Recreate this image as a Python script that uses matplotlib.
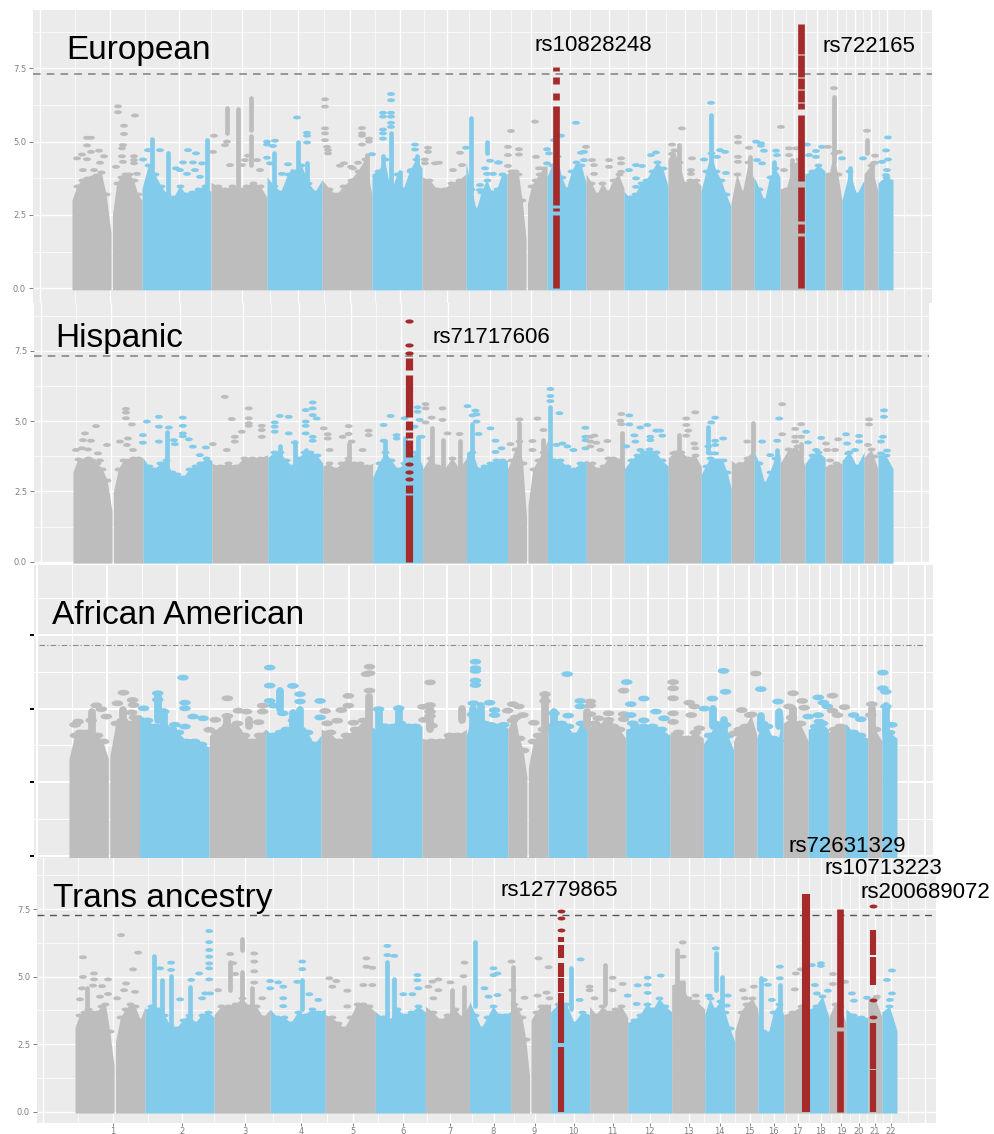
import numpy as np
import matplotlib
matplotlib.use('Agg')
import matplotlib.pyplot as plt
from matplotlib.path import Path

plt.rcParams['font.family'] = ['Liberation Sans', 'DejaVu Sans']

W, H = 994, 1134
GRAY = '#bdbdbd'
BLUE = '#83cbeb'
RED = '#a52a2a'
BG = '#ebebeb'

# genome position of each solid block (chr1 and chr9 have a gap at the centromere)
seg_start = [0, 40.5, 70, 139, 195, 250, 300, 350, 394, 435, 455.5, 475, 514, 552, 596, 629, 659, 682, 708, 733, 753, 770, 792, 806]
seg_end = [39, 70, 139, 195, 250, 300, 350, 394, 435, 454, 475, 514, 552, 596, 629, 659, 682, 708, 733, 753, 770, 792, 806, 821]
seg_chrom = [1, 1, 2, 3, 4, 5, 6, 7, 8, 9, 9, 10, 11, 12, 13, 14, 15, 16, 17, 18, 19, 20, 21, 22]
chrom_start = [0, 70, 139, 195, 250, 300, 350, 394, 435, 475, 514, 552, 596, 629, 659, 682, 708, 733, 753, 770, 792, 806]

tick_pos = [38, 107, 170, 226, 278, 328, 375, 418, 459, 498, 537, 574, 613, 644, 674, 698, 722, 745, 765, 783, 799, 815]
tick_lab = [str(i) for i in range(1, 23)]
grid_major = [-32] + tick_pos + [849]
y_breaks = [0, 2.5, 5, 7.5]
y_minor = [1.25, 3.75, 6.25, 8.75]

# ---------- European ----------
eur_ridge = [
    [3.0, 3.5, 3.7, 3.75, 3.8, 3.85, 3.95, 3.2, 1.9], [2.5, 3.6, 3.8, 3.9, 3.9, 3.7, 3.2, 3.0],
    [3.4, 4.2, 3.9, 3.5, 3.2, 3.1, 3.5, 3.2, 3.3, 3.4, 3.5, 3.3], [3.6, 3.5, 3.4, 3.5, 3.4, 3.5, 3.6, 3.5, 3.1],
    [3.8, 3.5, 3.3, 3.9, 4.0, 4.2, 3.6, 3.3, 3.7], [3.7, 3.4, 3.2, 3.5, 3.7, 4.0, 4.4, 3.2], [3.9, 4.0, 4.4, 3.3, 3.9, 3.4, 4.0, 4.4, 4.1],
    [3.8, 3.7, 3.4, 3.4, 3.6, 3.7, 3.9], [4.3, 3.4, 2.7, 3.3, 3.7, 3.3, 3.4, 3.9, 3.9], [3.9, 4.0, 4.0, 3.9, 3.0, 1.7], [2.9, 3.5, 3.7, 3.9, 4.1, 4.2],
    [3.8, 4.2, 4.5, 3.8, 3.4, 4.0, 4.3, 4.2, 3.6], [3.9, 3.6, 3.2, 3.6, 3.3, 3.7, 3.9, 3.4], [3.3, 3.1, 3.2, 3.6, 3.7, 4.0, 4.3, 4.1, 3.5],
    [4.4, 4.7, 4.3, 3.6, 3.7, 3.7, 3.5], [3.3, 4.0, 4.6, 4.0, 3.7, 3.2, 2.8], [2.9, 3.9, 3.3, 4.3, 3.7], [3.8, 3.4, 3.0, 3.8, 4.1, 3.8],
    [3.4, 3.4, 4.2, 4.4, 3.9], [3.9, 4.0, 4.2, 4.0], [3.9, 3.9, 4.6, 3.9, 3.0], [3.0, 4.0, 3.2, 3.7], [3.9, 4.2, 3.3], [3.6, 3.8, 3.7],
]
eur_tower_x = [80, 96, 135, 155, 166, 179, 179, 202, 220, 226, 235, 295, 311, 319, 328, 345, 399, 415, 607, 639, 678, 702, 720, 762, 762, 778, 795, 800]
eur_tower_lo = [3, 3, 3, 5.3, 3.3, 5.4, 4.2, 3, 3, 3, 3, 3, 3, 3, 3, 3, 3, 4.6, 3, 3, 3, 3, 3, 5.6, 4.3, 3, 4.6, 3]
eur_tower_hi = [5.1, 4.6, 5.05, 6.13, 6.1, 6.5, 5.2, 4.6, 4.0, 5.0, 4.26, 4.54, 4.5, 5.28, 3.97, 4.5, 5.79, 5.0, 4.88, 5.9, 4.48, 4.3, 4.37, 6.53, 5.55, 4.1, 5.05, 4.28]
eur_dot_x = [15, 19, 15, 10, 5, 15, 19, 27, 32, 28, 11, 22,
             46, 46, 52, 63, 52, 51, 50, 50, 62, 62, 62, 71, 44, 51, 65,
             88, 76, 116, 111, 124, 121, 130, 123, 108, 104, 115, 128,
             142, 155, 153, 141, 176, 195, 195, 173, 170, 158, 185, 195, 188,
             225, 235, 235, 235, 203, 201, 216, 198, 210,
             253, 253, 253, 253, 253, 255, 256, 256, 290, 290, 290, 297, 297, 290, 300, 286, 272, 268, 279, 281,
             319, 319, 319, 319, 319, 319, 311, 311, 311, 311, 311, 343, 343, 339,
             356, 356, 353, 353, 363, 367, 388, 394, 390, 381,
             418, 426, 413, 415, 421, 408, 408, 436, 436, 427, 436,
             439, 447, 447, 463, 464, 475, 477, 467, 475,
             504, 489, 482, 514, 512, 509, 512, 500,
             520, 522, 537, 537, 549, 549, 522, 549,
             584, 579, 570, 564, 557, 564, 564,
             610, 600, 600, 620, 619, 619,
             639, 648, 653, 632, 654, 645,
             666, 666, 666, 666, 677,
             709, 684, 689, 689, 692, 704, 705, 690, 685,
             717, 724, 712, 717,
             735, 744, 744, 750, 737,
             762, 756, 767, 770,
             795, 791, 803, 803,
             816, 814, 816, 810, 815, 814]
eur_dot_y = [5.13, 5.13, 4.87, 4.56, 4.43, 4.4, 4.65, 4.69, 4.5, 4.28, 4.03, 4.03,
             6.2, 6.0, 5.54, 5.89, 5.26, 4.88, 4.77, 4.5, 4.5, 4.37, 4.26, 4.39, 4.14, 4.31, 3.9,
             4.71, 4.71, 4.71, 4.29, 4.6, 4.29, 4.26, 4.03, 4.03, 4.09, 3.9, 3.8,
             5.2, 5.0, 4.88, 4.65, 4.52, 5.0, 4.9, 4.37, 4.2, 4.2, 4.37, 4.45, 4.03,
             5.82, 5.3, 5.2, 4.97, 5.03, 4.85, 4.23, 4.26, 3.9,
             6.44, 6.19, 5.45, 5.28, 5.05, 4.82, 4.71, 4.6, 5.46, 5.28, 5.2, 5.1, 5.0, 4.9, 4.57, 4.28, 4.26, 4.18, 4.14, 4.09,
             6.62, 6.41, 5.98, 5.85, 5.64, 5.5, 5.98, 5.85, 5.41, 5.28, 5.1, 4.9, 4.73, 4.03,
             4.79, 4.65, 4.39, 4.26, 4.26, 4.28, 4.62, 4.79, 4.2, 4.03,
             4.35, 4.29, 4.09, 3.9, 3.9, 3.52, 3.35, 4.82, 4.54, 4.29, 4.17,
             5.36, 4.74, 4.56, 5.68, 4.48, 4.74, 4.6, 4.09, 4.26,
             5.64, 5.2, 5.05, 4.82, 4.65, 4.62, 4.37, 3.4,
             4.37, 4.2, 4.37, 4.14, 4.43, 4.26, 3.9, 3.97,
             4.63, 4.54, 4.17, 4.2, 4.03, 3.75, 3.46,
             5.45, 4.9, 4.58, 4.43, 4.03, 3.9,
             6.32, 4.71, 4.65, 4.39, 3.93, 4.48,
             5.16, 4.97, 4.48, 4.31, 4.79,
             5.5, 5.0, 4.94, 4.86, 4.69, 4.69, 4.54, 4.26, 4.37,
             4.77, 4.77, 4.03, 4.54,
             4.9, 4.68, 4.48, 4.82, 4.54,
             6.82, 4.82, 4.65, 4.43,
             5.37, 4.43, 4.28, 4.52,
             5.14, 4.7, 4.39, 4.31, 4.03, 3.86]
eur_red_x = [484, 484, 484, 484, 484, 484, 729, 729, 729, 729, 729, 729, 729, 729, 729]
eur_red_lo = [0, 2.62, 2.85, 6.4, 6.95, 7.4, 0, 1.9, 2.3, 3.65, 6.1, 6.35, 6.8, 7.2, 8.0]
eur_red_hi = [2.5, 2.75, 6.2, 6.65, 7.2, 7.55, 1.8, 2.2, 3.45, 5.9, 6.3, 6.75, 7.15, 7.95, 9.0]

# ---------- Hispanic ----------
his_ridge = [
    [3.2, 3.65, 3.6, 3.7, 3.6, 3.5, 3.3, 2.9, 1.8], [2.5, 3.3, 3.6, 3.6, 3.7, 3.7, 3.7],
    [3.7, 3.4, 3.3, 3.5, 3.6, 3.2, 3.1, 3.0, 3.3, 3.4, 3.5, 3.7, 3.6], [3.5, 3.4, 3.5, 3.4, 3.7, 3.7, 3.7, 3.8],
    [3.7, 3.9, 3.9, 3.6, 3.4, 3.7, 3.9, 3.9, 3.8, 3.5], [3.4, 3.5, 3.3, 3.5, 3.7, 3.5, 3.5, 3.4, 3.5], [3.0, 3.5, 3.9, 3.6, 3.3, 3.5, 3.7, 3.9, 3.4],
    [3.3, 3.7, 3.4, 3.3, 3.7, 3.3, 3.7], [3.9, 3.9, 3.3, 3.4, 3.5, 3.6, 3.6, 3.6], [3.3, 3.6, 4.0, 4.3, 3.5, 1.6], [2.0, 3.3, 3.6, 3.9, 4.3],
    [4.0, 3.6, 3.6, 3.4, 3.3, 3.5, 3.6], [3.6, 3.5, 3.3, 3.4, 3.7, 3.7, 3.6, 3.4], [3.3, 3.6, 3.8, 3.9, 4.0, 3.9, 3.6, 3.4],
    [3.7, 3.9, 3.9, 3.7, 3.8, 3.4], [3.1, 3.4, 3.7, 3.6, 3.6, 3.6, 3.2, 2.6], [3.6, 3.4, 3.7, 4.0], [3.9, 3.5, 2.8, 3.2, 3.7, 3.8],
    [3.5, 4.0, 4.1, 3.4], [3.5, 3.8, 3.9, 3.7], [3.4, 3.4, 3.5, 3.5], [3.6, 3.9, 3.4, 3.9], [3.7, 4.0, 3.3], [3.8, 3.8, 3.3],
]
his_tower_x = [94, 207, 233, 222, 276, 312, 332, 345, 359, 370, 387, 399, 447, 471, 478, 550, 607, 636, 681, 705, 723, 729]
his_tower_lo = [3, 3, 3, 3, 3, 3, 3, 3, 3, 3, 3, 3, 3, 3, 3, 3, 3.9, 3.9, 3.9, 3, 3, 3]
his_tower_hi = [4.62, 4.1, 3.97, 4.24, 4.2, 4.3, 4.4, 4.44, 4.74, 4.32, 4.3, 4.9, 4.92, 4.32, 5.5, 4.56, 4.5, 4.8, 4.92, 3.97, 3.97, 4.2]
his_dot_x = [3, 12, 10, 18, 23, 15, 25, 34, 27, 9,
             53, 53, 53, 59, 55, 47, 70, 70, 60, 54,
             74, 86, 86, 110, 110, 96, 110, 110, 101, 86, 116, 120, 133, 140, 127, 102,
             152, 159, 176, 176, 176, 176, 169, 189, 189, 189, 162, 162, 154,
             202, 202, 202, 207, 216, 216, 222, 233, 233, 233, 240, 240, 240, 244, 233, 240, 240, 251,
             255, 255, 276, 276, 296, 296, 270, 279, 257, 290,
             318, 311, 311, 324, 324, 332, 345, 345, 347, 349, 342,
             353, 353, 359, 353, 370, 370, 375, 387, 395,
             403, 400, 404, 404, 406, 418, 423, 429, 423,
             447, 465, 460, 460, 438, 471,
             478, 478, 478, 487, 484, 490, 495, 513, 513, 513, 501, 513,
             518, 522, 518, 518, 524, 535, 549, 548, 549, 528,
             557, 557, 568, 575, 584, 588, 590, 562, 578, 554, 563, 578, 568,
             614, 614, 623, 616, 614, 622, 623, 601,
             643, 639, 651, 643, 643, 636, 643, 638,
             668, 675,
             690, 707, 705, 698, 710, 710,
             723, 729, 729, 723, 723, 734,
             749, 736, 744,
             754, 766, 763, 755, 758,
             774, 775, 787, 787, 776, 783,
             797, 797, 796, 803,
             812, 812, 811, 809, 815, 809]
his_dot_y = [3.97, 4.56, 4.32, 4.3, 4.82, 3.99, 3.85, 4.15, 3.6, 4.03,
             5.43, 5.3, 5.1, 4.88, 4.38, 4.27, 4.5, 4.23, 3.97, 4.15,
             4.98, 5.15, 4.8, 5.12, 4.83, 4.77, 4.56, 4.46, 4.32, 4.27, 4.35, 4.09, 4.06, 4.18, 3.79, 4.18,
             5.86, 5.07, 5.45, 5.1, 4.92, 4.83, 4.62, 4.83, 4.68, 4.44, 4.44, 4.27, 3.97,
             4.95, 4.8, 4.62, 5.18, 5.15, 4.56, 4.24, 5.39, 4.98, 4.83, 5.66, 5.45, 5.21, 5.09, 4.56, 4.44, 4.3, 4.74,
             4.53, 4.38, 4.82, 4.54, 4.66, 4.5, 4.44, 4.27, 3.97, 3.97,
             5.18, 4.86, 4.3, 4.5, 4.38, 5.1, 5.49, 5.33, 5.04, 4.44, 4.8,
             5.6, 5.45, 5.12, 4.95, 5.45, 5.04, 4.56, 4.54, 5.53,
             5.37, 5.2, 5.24, 4.98, 4.54, 4.74, 4.3, 4.03, 3.9,
             5.06, 5.09, 4.29, 3.97, 4.18, 4.68,
             6.14, 5.89, 5.71, 5.28, 4.15, 4.2, 4.1, 4.76, 4.44, 4.32, 3.97, 4.03,
             4.44, 4.48, 4.27, 4.1, 4.23, 4.29, 5.25, 5.01, 4.89, 3.97,
             5.2, 4.88, 4.77, 4.86, 4.66, 4.66, 4.48, 4.49, 4.44, 4.1, 4.27, 4.32, 3.97,
             5.09, 4.86, 5.31, 4.66, 4.48, 4.2, 4.03, 3.85,
             5.12, 4.95, 4.38, 4.3, 4.15, 4.1, 3.85, 3.85,
             3.47, 4.27,
             4.27, 5.09, 4.3, 3.79, 5.6, 4.53,
             4.72, 4.89, 4.44, 4.44, 4.27, 4.62,
             4.4, 4.24, 3.97,
             4.2, 4.35, 3.97, 3.97, 3.6,
             4.53, 4.2, 4.47, 4.27, 3.85, 3.97,
             5.06, 4.88, 4.15, 3.74,
             5.38, 5.15, 4.44, 4.27, 3.95, 3.85]
his_red_x = [336, 336, 336, 336, 336, 336, 336]
his_red_lo = [0, 2.43, 3.73, 4.38, 4.68, 5.15, 6.81]
his_red_hi = [2.37, 2.72, 4.32, 4.62, 5.0, 6.64, 7.23]
his_red_dot_x = [336, 336, 336, 336, 336, 336]
his_red_dot_y = [2.94, 3.18, 3.46, 7.42, 7.69, 8.54]

# ---------- African American ----------
afr_ridge = [
    [3.3, 4.1, 4.2, 4.2, 4.1, 4.1, 3.9, 3.3], [3.4, 4.5, 4.6, 4.5, 4.7, 4.8],
    [4.8, 4.6, 4.4, 4.4, 4.3, 4.2, 3.9, 3.9, 3.8, 3.7], [4.1, 4.2, 4.3, 4.4, 4.5, 4.1, 3.9, 4.1, 4.3],
    [4.3, 4.1, 4.2, 4.3, 4.6, 4.3, 4.2, 3.8, 4.1], [4.3, 4.2, 3.9, 4.1, 4.3, 4.6, 5.0], [4.4, 4.2, 4.3, 4.4, 4.5, 4.4, 4.4, 4.4],
    [4.0, 3.9, 3.9, 4.1, 4.1, 4.3], [4.1, 4.8, 4.9, 4.5, 4.3, 4.4, 4.3, 4.3], [4.3, 4.6, 4.7, 4.0, 3.6, 2.7], [3.0, 3.9, 4.1, 4.3, 5.0],
    [4.5, 4.5, 4.5, 4.4, 4.1, 4.5, 4.6], [4.3, 4.5, 4.4, 4.5, 4.4, 4.3, 4.0], [4.3, 4.4, 4.4, 4.4, 4.3, 4.1],
    [4.2, 4.2, 4.0, 4.2, 4.0], [3.8, 4.1, 4.5, 4.4, 4.1, 3.6], [3.9, 4.3, 4.4, 4.8, 4.1], [4.0, 4.5, 4.4, 4.0, 3.9, 4.8],
    [4.5, 4.7, 4.5, 3.9], [4.3, 4.4, 4.5, 4.3], [4.2, 4.3, 4.4, 4.4], [4.5, 4.2, 4.1, 4.0], [4.2, 4.3, 3.9], [4.4, 4.2, 4.0],
]
afr_tower_x = [23, 54, 88, 94, 157, 178, 209, 222, 229, 297, 307, 327, 358, 390, 401, 409, 472, 481, 514, 639, 649, 686, 704, 718, 796, 810]
afr_tower_lo = [4.2, 4, 4.6, 4.4, 4.4, 4.4, 5.0, 4.4, 4.4, 4.4, 4.3, 4.3, 4.3, 4.6, 4.3, 4.3, 4.4, 4.4, 4.4, 4.4, 4.2, 4.3, 4.4, 4.4, 4.2, 4.2]
afr_tower_hi = [4.9, 4.95, 5.4, 4.9, 4.7, 4.6, 5.6, 4.85, 4.95, 5.4, 4.9, 5.0, 5.0, 5.0, 5.0, 5.1, 5.45, 4.9, 4.9, 5.0, 4.6, 4.75, 4.9, 5.0, 5.0, 5.1]
afr_dot_x = [27, 32, 37, 9, 6, 22,
             54, 48, 63, 64, 62, 74,
             88, 88, 94, 113, 115, 115, 123, 133, 105, 115, 139,
             157, 145, 157, 168, 176, 192, 192, 199, 199, 199, 188, 157,
             222, 229, 229, 203, 212, 249, 249,
             254, 270, 277, 277, 266, 298, 295, 298, 298, 256, 282,
             307, 327, 351, 313,
             358, 358, 358, 358, 352, 360,
             403, 403, 403, 403, 403, 401, 417, 422, 422, 418,
             431, 435, 440, 446, 450,
             461, 472, 472,
             494, 507, 507, 481, 495,
             517, 517, 517, 525, 535, 535, 553, 550, 550, 550,
             557, 570, 557, 559, 582, 570, 590,
             599, 599, 599, 599, 599, 615, 620, 617, 625,
             649, 651, 638, 630, 651,
             681, 660, 667, 675,
             686, 703,
             718, 727, 714, 729, 733,
             743, 748, 752, 743, 744,
             757, 757, 769, 762,
             778, 785,
             796, 795,
             807, 807, 810, 810, 816]
afr_dot_y = [5.11, 4.98, 4.73, 4.56, 4.45, 4.6,
             5.54, 5.18, 5.29, 5.12, 4.87, 5.01,
             5.52, 5.3, 4.9, 6.05, 5.2, 5.01, 4.73, 4.67, 4.45, 4.39, 4.28,
             5.35, 4.62, 4.75, 4.93, 4.9, 5.1, 4.9, 6.39, 5.78, 5.26, 4.54, 4.4,
             5.77, 5.49, 5.24, 5.1, 4.84, 5.26, 4.7,
             4.92, 4.95, 5.43, 5.1, 4.59, 6.42, 6.17, 6.2, 5.61, 4.5, 4.52,
             4.98, 5.01, 5.06, 4.4,
             5.89, 5.12, 4.9, 4.75, 4.62, 4.42,
             6.59, 6.37, 6.28, 5.95, 5.8, 5.18, 5.2, 4.95, 4.78, 4.45,
             4.45, 4.93, 5.15, 5.07, 4.78,
             4.52, 5.49, 5.26,
             6.17, 5.26, 5.07, 4.84, 4.76,
             5.24, 5.1, 4.81, 4.67, 4.84, 4.62, 5.9, 5.61, 4.81, 4.64,
             5.15, 5.34, 4.78, 4.5, 4.9, 4.6, 4.67,
             5.9, 5.69, 5.35, 4.84, 4.55, 5.2, 5.07, 4.78, 4.33,
             6.28, 5.57, 5.34, 5.0, 4.45,
             6.19, 4.16, 4.95, 4.78,
             5.66, 5.24,
             5.52, 5.26, 5.07, 5.03, 4.73,
             5.38, 5.2, 5.07, 4.78, 4.56,
             5.44, 4.93, 5.05, 4.78,
             4.78, 4.64,
             5.15, 4.78,
             6.22, 5.69, 5.57, 5.07, 4.45]

# ---------- Trans ancestry ----------
tra_ridge = [
    [3.1, 3.6, 3.7, 3.8, 3.7, 3.7, 3.9, 4.0, 3.0, 1.7], [2.6, 3.5, 3.8, 4.0, 3.9, 3.4, 3.9],
    [3.8, 3.9, 3.8, 3.6, 3.2, 3.1, 3.4, 3.6, 3.3, 3.6, 3.7, 3.5], [3.6, 3.9, 3.9, 4.0, 4.2, 3.9, 3.9, 3.5, 3.8],
    [3.8, 3.5, 3.5, 3.3, 3.7, 3.6, 3.8, 3.7, 3.8], [3.6, 3.5, 3.3, 3.1, 3.5, 4.0, 4.0, 3.9, 3.7], [3.7, 3.5, 3.4, 3.8, 3.6, 3.7, 3.9, 3.7],
    [3.9, 3.7, 3.4, 3.6, 3.8, 3.5, 4.0], [4.1, 3.6, 3.1, 3.5, 3.9, 3.6, 3.6, 3.7], [4.2, 4.0, 3.8, 3.5, 2.7, 1.3], [3.4, 3.7, 3.9, 3.9, 4.0],
    [3.7, 4.0, 4.0, 3.3, 3.7, 3.6], [3.9, 3.6, 3.9, 3.7, 3.8, 3.9, 3.5], [3.3, 3.4, 3.6, 4.0, 3.8, 4.2, 3.9, 3.7],
    [4.7, 4.8, 4.2, 4.1, 3.8], [3.6, 4.2, 3.8, 4.1, 3.7, 3.1, 2.6], [3.0, 3.7, 4.0, 4.2, 3.8], [3.7, 3.0, 2.9, 3.7, 4.0, 3.6],
    [3.6, 3.7, 3.9, 3.7], [3.8, 3.9, 4.3, 3.5], [3.5, 4.0, 3.9, 3.3], [3.8, 3.6, 3.5, 3.5], [4.2, 4.2, 3.5], [3.7, 3.9, 3.0],
]
tra_tower_x = [12, 79, 87, 96, 115, 155, 167, 167, 177, 227, 312, 319, 377, 389, 400, 437, 495, 529, 601, 607, 640, 646, 685, 704]
tra_tower_lo = [3, 3.5, 3, 3, 3, 4.5, 3.6, 6.0, 3, 3.8, 3.3, 3, 3, 3, 3.9, 4, 3.8, 4, 4, 3, 4.5, 3.8, 3, 3]
tra_tower_hi = [4.57, 5.77, 4.88, 5.02, 4.63, 5.56, 5.19, 6.38, 4.57, 4.88, 5.56, 4.9, 4.5, 4.63, 6.3, 5.37, 5.31, 5.43, 5.99, 4.8, 5.86, 5.0, 4.94, 4.7]
tra_dot_x = [8, 8, 19, 19, 33, 18, 27, 33, 7, 5, 25,
             46, 63, 58, 51, 49, 60, 42,
             85, 134, 134, 134, 134, 134, 134, 134, 124, 116, 105, 130, 127, 135, 96, 96,
             155, 179, 179, 179, 179, 195, 195, 143, 158, 160, 187,
             203, 208, 208, 227, 227, 222, 234, 243, 208,
             254, 261, 291, 291, 297, 288, 297, 272, 257, 272,
             312, 312, 319, 342, 342, 343, 328, 337,
             389, 388, 363, 357, 353, 363, 358, 375,
             418, 418, 409, 413, 422, 422, 436, 437,
             463, 473, 471, 462, 449, 474,
             505, 514, 514, 504,
             537, 547, 537, 519, 552,
             572, 562, 585, 572, 561, 572,
             607, 607, 620,
             640, 633, 652, 651,
             667, 669, 678, 688, 692,
             704, 704, 719, 696,
             725, 720,
             736, 745, 745, 739, 741, 752,
             757, 757, 769,
             776, 778,
             791, 801,
             816, 811, 816, 814]
tra_dot_y = [5.72, 4.99, 5.12, 4.9, 4.9, 4.67, 4.65, 4.36, 4.57, 4.16, 4.26,
             6.54, 5.89, 5.27, 4.75, 4.5, 4.44, 4.2,
             5.31, 6.69, 6.28, 5.99, 5.74, 5.49, 5.31, 4.9, 5.12, 4.88, 4.16, 4.38, 4.2, 4.38, 5.52, 5.25,
             5.84, 5.86, 5.56, 5.2, 4.78, 4.84, 4.57, 4.5, 5.5, 5.1, 4.2,
             4.79, 4.63, 4.2, 5.56, 5.28, 4.81, 4.35, 4.14, 3.91,
             4.94, 4.84, 5.68, 5.37, 5.33, 4.69, 4.69, 4.48, 4.63, 3.9,
             6.14, 5.8, 5.77, 5.06, 4.87, 4.57, 4.35, 4.35,
             5.52, 5.02, 4.9, 4.82, 4.63, 4.5, 4.2, 4.79,
             5.31, 5.06, 4.57, 4.26, 5.12, 4.32, 5.56, 4.5,
             5.68, 5.35, 4.41, 4.3, 4.22, 4.2,
             5.64, 4.63, 4.5, 4.14,
             4.96, 4.73, 4.5, 4.2, 4.3,
             4.96, 4.68, 5.04, 4.7, 3.99, 4.4,
             6.27, 5.74, 4.3,
             6.05, 4.3, 4.3, 3.93,
             4.5, 4.2, 4.63, 4.88, 4.7,
             5.37, 4.94, 4.53, 4.14,
             5.27, 5.12,
             5.43, 5.5, 5.4, 4.69, 4.38, 4.48,
             5.1, 4.73, 4.81,
             4.38, 4.11,
             4.22, 4.26,
             5.23, 4.88, 4.38, 4.14]
tra_red_x = [485, 485, 485, 485, 485, 485, 730, 764, 764, 797, 797, 797, 797]
tra_red_lo = [0, 2.53, 5.0, 5.68, 6.3, 4.44, 0, 0, 3.12, 0, 1.6, 4.69, 5.8]
tra_red_hi = [2.4, 4.38, 5.5, 6.17, 6.48, 4.94, 8.08, 3.0, 7.5, 1.54, 3.27, 5.74, 6.73]
tra_red_w = [4.4, 4.4, 4.4, 4.4, 4.4, 4.4, 5.8, 4.8, 4.8, 4.4, 4.4, 4.4, 4.4]
tra_red_dot_x = [485, 485, 485, 797, 797, 797]
tra_red_dot_y = [6.73, 7.16, 7.44, 3.5, 4.13, 7.62]


def px_text(x, y, s, size):
    plt.figtext(x / W, 1 - y / H, s, fontsize=size, color='black', va='baseline', ha='left')


def chrom_colour(x):
    i = np.searchsorted(chrom_start, x, side='right')
    return BLUE if i % 2 == 0 else GRAY


def panel(box, x0, sx, y0, sy, ridge, tower_x, tower_lo, tower_hi, dot_x, dot_y, dot_size, tower_w, grid_w):
    l, t, r, b = box
    ax = fig.add_axes([l / W, 1 - b / H, (r - l) / W, (b - t) / H])
    ax.set_facecolor(BG)
    ax.set_xlim((l - x0) / sx, (r - x0) / sx)
    ax.set_ylim((y0 - b) / sy, (y0 - t) / sy)
    for s in ax.spines.values():
        s.set_visible(False)
    minor = [(a + c) / 2 for a, c in zip(grid_major[:-1], grid_major[1:])]
    ax.vlines(grid_major, -5, 15, color='white', lw=grid_w, zorder=1)
    ax.vlines(minor, -5, 15, color='white', lw=grid_w * 0.5, zorder=1)
    ax.hlines(y_breaks, -100, 1000, color='white', lw=grid_w, zorder=1)
    ax.hlines(y_minor, -100, 1000, color='white', lw=grid_w * 0.5, zorder=1)
    for a, c, k, h in zip(seg_start, seg_end, seg_chrom, ridge):
        xs = np.linspace(a, c, len(h))
        col = BLUE if k % 2 == 0 else GRAY
        ax.fill_between(xs, -0.05, h, color=col, lw=0, zorder=2)
        # rough top edge, the end points would stick out of the block so they are left out
        ax.scatter(xs[1:-1], h[1:-1], marker=oval, s=dot_size, color=col, linewidths=0, zorder=2)
    ax.vlines(tower_x, tower_lo, tower_hi, colors=[chrom_colour(v) for v in tower_x], lw=tower_w, capstyle='round', zorder=3)
    ax.scatter(dot_x, dot_y, marker=oval, s=dot_size, c=[chrom_colour(v) for v in dot_x], linewidths=0, zorder=3)
    return ax


def y_axis(ax, labels, colour):
    ax.set_yticks(y_breaks)
    ax.set_yticklabels(labels if labels else [], fontsize=6, color='#808080', family='DejaVu Sans')
    ax.tick_params(axis='y', length=3, width=0.7, color=colour, pad=2)
    ax.set_xticks([])


# oval marker, the original points were squashed when the panels were pasted together
circle = Path.unit_circle()
oval = Path(circle.vertices * [1, 0.5], circle.codes)

fig = plt.figure(figsize=(W / 100, H / 100), dpi=100)

ylab = ['0.0', '2.5', '5.0', '7.5']

ax1 = panel((33, 10, 932, 303), 72, 1.0, 288.4, 29.36, eur_ridge, eur_tower_x, eur_tower_lo, eur_tower_hi, eur_dot_x, eur_dot_y, 32, 3.4, 1.0)
ax1.axhline(7.31, color='#7f7f7f', lw=1.1, ls=(0, (5, 4)), zorder=4)
ax1.vlines(eur_red_x, eur_red_lo, eur_red_hi, color=RED, lw=4.8, zorder=5)
y_axis(ax1, ylab, '#808080')

ax2 = panel((34, 303, 929, 563), 73, 0.9988, 561.7, 28.13, his_ridge, his_tower_x, his_tower_lo, his_tower_hi, his_dot_x, his_dot_y, 32, 3.4, 1.0)
ax2.axhline(7.31, color='#7f7f7f', lw=1.1, ls=(0, (5, 4)), zorder=4)
ax2.vlines(his_red_x, his_red_lo, his_red_hi, color=RED, lw=5.2, zorder=5)
ax2.scatter(his_red_dot_x, his_red_dot_y, marker=oval, s=36, color=RED, linewidths=0, zorder=5)
y_axis(ax2, ylab, '#808080')

ax3 = panel((34, 565, 933, 858), 69, 1.0085, 856, 29.48, afr_ridge, afr_tower_x, afr_tower_lo, afr_tower_hi, afr_dot_x, afr_dot_y, 70, 5.6, 1.5)
ax3.hlines(7.17, (39 - 69) / 1.0085, (925 - 69) / 1.0085, color='#8c8c8c', lw=0.8, ls=(0, (5, 2, 1, 2)), zorder=4)
y_axis(ax3, None, 'black')
ax3.tick_params(axis='y', length=3, width=1.4, color='black')

ax4 = panel((37, 858, 936, 1123), 75, 1.0012, 1111.7, 27.0, tra_ridge, tra_tower_x, tra_tower_lo, tra_tower_hi, tra_dot_x, tra_dot_y, 32, 3.4, 1.0)
ax4.axhline(7.3, color='#555555', lw=1.0, ls=(0, (5, 4)), zorder=4)
ax4.vlines(tra_red_x, tra_red_lo, tra_red_hi, color=RED, lw=tra_red_w, zorder=5)
ax4.scatter(tra_red_dot_x, tra_red_dot_y, marker=oval, s=32, color=RED, linewidths=0, zorder=5)
y_axis(ax4, ylab, '#808080')
ax4.set_xticks(tick_pos)
ax4.set_xticklabels(tick_lab, fontsize=6, color='#808080', family='DejaVu Sans')
ax4.tick_params(axis='x', length=2, width=0.7, color='#808080', pad=1)

px_text(66, 59, 'European', 24)
px_text(534, 51, 'rs10828248', 16)
px_text(822, 52, 'rs722165', 16)
px_text(55, 347, 'Hispanic', 24)
px_text(432, 343, 'rs71717606', 16)
px_text(52, 624, 'African American', 24)
px_text(53, 907, 'Trans ancestry', 24)
px_text(501, 896, 'rs12779865', 16)
px_text(789, 852, 'rs72631329', 16)
px_text(825, 874, 'rs10713223', 16)
px_text(861, 898, 'rs200689072', 16)

fig.savefig('out.png', dpi=100, facecolor='white')
